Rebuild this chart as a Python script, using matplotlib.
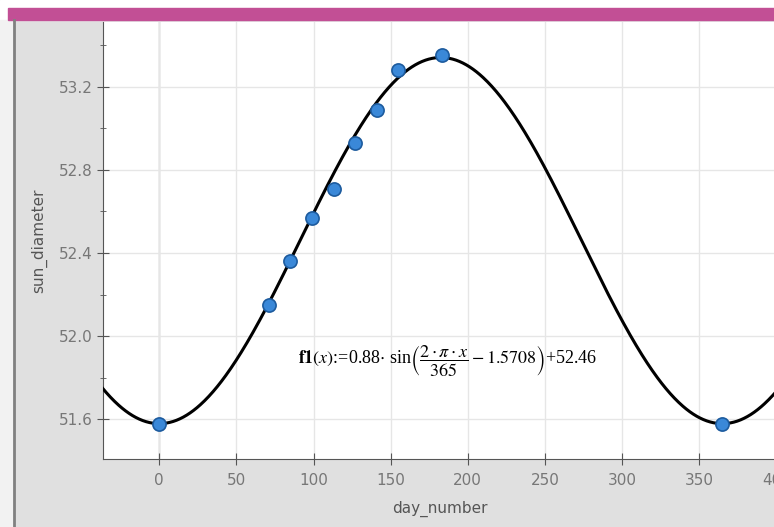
import numpy as np
import matplotlib.pyplot as plt
from matplotlib.patches import Rectangle
from matplotlib.lines import Line2D

# data
day_number = [0, 71, 85, 99, 113, 127, 141, 155, 183, 365]
sun_diameter = [51.58, 52.15, 52.36, 52.57, 52.71, 52.93, 53.09, 53.28, 53.35, 51.58]

# fitted curve f1(x)
amp = 0.88
period = 365
phase = 1.5708
offset = 52.46

xticks = [0, 50, 100, 150, 200, 250, 300, 350, 400]
yticks = [51.6, 52.0, 52.4, 52.8, 53.2]

plt.rcParams['mathtext.fontset'] = 'stix'

fig = plt.figure(figsize=(7.74, 5.27), dpi=100)
fig.patch.set_facecolor('#e0e0e0')

# window decoration: white strip on top, pink title bar, left border
fig.add_artist(Rectangle((0, 0.962), 1, 0.038, transform=fig.transFigure, color='white', zorder=0))
fig.add_artist(Rectangle((0.01, 0.962), 0.99, 0.023, transform=fig.transFigure, color='#c24f95', zorder=1))
fig.add_artist(Line2D([0.018, 0.018], [0.0, 0.962], transform=fig.transFigure, color='#808080', lw=2))
fig.add_artist(Rectangle((0, 0), 0.017, 0.962, transform=fig.transFigure, color='#f2f2f2', zorder=0))

ax = fig.add_axes([0.133, 0.129, 0.87, 0.829])
ax.set_facecolor('white')

x = np.linspace(-40, 400, 800)
y = amp * np.sin(2 * np.pi * x / period - phase) + offset
ax.plot(x, y, color='black', lw=2.2, zorder=3)
ax.scatter(day_number, sun_diameter, s=90, color='#3a88d8', edgecolor='#1d5b9e', lw=1.2, zorder=4)

ax.set_xlim(-36.5, 398)
ax.set_ylim(51.41, 53.51)
ax.set_xticks(xticks)
ax.set_yticks(yticks)
ax.set_yticks([51.8, 52.2, 52.6, 53.0, 53.4], minor=True)
ax.set_yticklabels([f'{v:.1f}' for v in yticks])
ax.grid(True, color='#e6e6e6', lw=1)
ax.axvline(0, color='#b0b0b0', lw=1, zorder=1)

for s in ['top', 'right']:
    ax.spines[s].set_visible(False)
for s in ['left', 'bottom']:
    ax.spines[s].set_color('#555555')
ax.tick_params(axis='both', which='both', direction='inout', length=8, colors='#555555',
               labelcolor='#777777', labelsize=11)
ax.tick_params(axis='y', which='minor', length=5)
ax.tick_params(axis='x', pad=6)

ax.set_xlabel('day_number', color='#555555', fontsize=11, labelpad=9)
ax.set_ylabel('sun_diameter', color='#555555', fontsize=11, labelpad=8)

ax.text(187, 51.885,
        r'$\mathbf{f1}(x)$:=0.88$\cdot$ sin$\left(\dfrac{2\cdot\pi\cdot x}{365}-1.5708\right)$+52.46',
        fontsize=13, family='Liberation Serif', ha='center', va='center', zorder=5)

fig.savefig('out.png', dpi=100, facecolor=fig.get_facecolor())
